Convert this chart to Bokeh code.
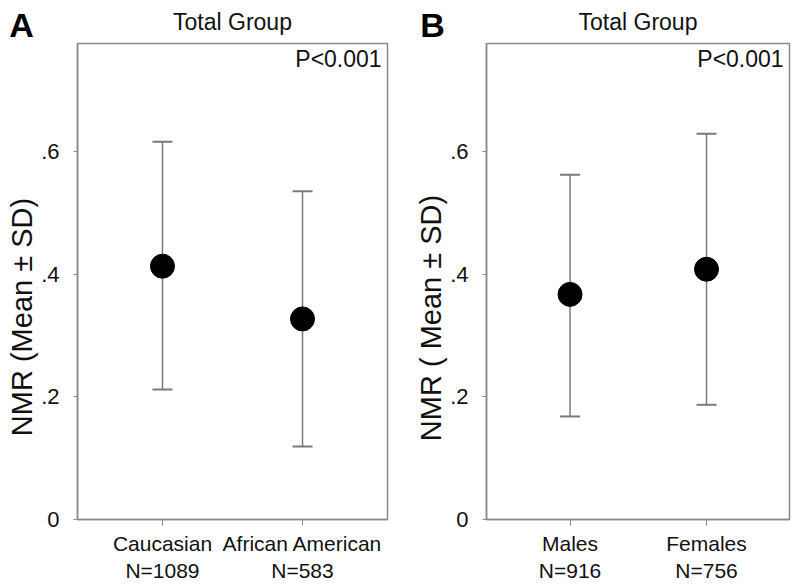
from bokeh.plotting import figure
from bokeh.models import (FixedTicker, Range1d, Whisker, ColumnDataSource, Label, TeeHead, GridBox, Div)
from bokeh.embed import file_html
from bokeh.resources import INLINE

# ---- data ----
race_labels = ["Caucasian\nN=1089", "African American\nN=583"]
race_mean = [0.413, 0.327]
race_upper = [0.616, 0.535]
race_lower = [0.212, 0.119]

sex_labels = ["Males\nN=916", "Females\nN=756"]
sex_mean = [0.367, 0.408]
sex_upper = [0.562, 0.629]
sex_lower = [0.168, 0.187]

y_ticks = [0, 0.2, 0.4, 0.6]
y_tick_labels = ["0", ".2", ".4", ".6"]
panel_title = "Total Group"
p_text = "P<0.001"
ylabel_a = "NMR (Mean ± SD)"
ylabel_b = "NMR ( Mean ± SD)"

FONT = "Liberation Sans"
GRAY = "#8a8a8a"
TXT = "#111111"
H = 588


def make_panel(labels, mean, upper, lower, width, xr, bl, br, bt, bb, title_standoff):
    p = figure(width=width, height=H, output_backend="svg", toolbar_location=None,
               x_range=Range1d(*xr), y_range=Range1d(0, 0.776),
               min_border_left=bl, min_border_right=br, min_border_top=bt, min_border_bottom=bb)
    p.title.text = panel_title
    p.title.align = "center"
    p.title.vertical_align = "top"
    p.title.text_font = FONT
    p.title.text_font_size = "23px"
    p.title.text_font_style = "normal"
    p.title.text_color = TXT
    p.title.standoff = title_standoff
    p.xgrid.visible = False
    p.ygrid.visible = False
    p.outline_line_color = GRAY
    p.outline_line_width = 1.5
    p.background_fill_color = "white"
    p.border_fill_color = "white"

    xs = list(range(1, len(labels) + 1))
    src = ColumnDataSource(dict(x=xs, mean=mean, upper=upper, lower=lower))

    w = Whisker(base="x", upper="upper", lower="lower", source=src, dimension="height",
                line_color="#7a7a7a", line_width=1.5,
                upper_head=TeeHead(size=20, line_color="#7a7a7a", line_width=2),
                lower_head=TeeHead(size=20, line_color="#7a7a7a", line_width=2))
    p.add_layout(w)
    p.scatter("x", "mean", source=src, size=24, color="black")

    xa = p.xaxis[0]
    xa.ticker = FixedTicker(ticks=xs)
    xa.major_label_overrides = {x: l for x, l in zip(xs, labels)}
    xa.minor_tick_line_color = None
    xa.major_tick_out = 6
    xa.major_tick_in = 0
    xa.major_label_standoff = 6
    xa.axis_line_color = GRAY
    xa.axis_line_width = 1.5
    xa.major_tick_line_color = GRAY
    xa.major_label_text_font = FONT
    xa.major_label_text_font_size = "21px"
    xa.major_label_text_color = TXT

    ya = p.yaxis[0]
    ya.ticker = FixedTicker(ticks=y_ticks)
    ya.major_label_overrides = {t: l for t, l in zip(y_ticks, y_tick_labels)}
    ya.minor_tick_line_color = None
    ya.major_tick_out = 4
    ya.major_tick_in = 0
    ya.major_label_standoff = 14
    ya.axis_line_color = GRAY
    ya.axis_line_width = 1.5
    ya.major_tick_line_color = GRAY
    ya.major_label_text_font = FONT
    ya.major_label_text_font_size = "22px"
    ya.major_label_text_color = TXT

    p.add_layout(Label(x=2.565, y=0.772, text=p_text, text_align="right", text_baseline="top",
                       text_font=FONT, text_font_size="23px", text_color=TXT))
    return p


def make_side_text(width, letter, letter_xy, ylabel, ylabel_xy):
    html = (
        f'<div style="position:relative;width:{width}px;height:{H}px;">'
        f'<span style="position:absolute;left:{letter_xy[0]}px;top:{letter_xy[1]}px;'
        f'transform:translate(-50%,-50%);font-family:\'{FONT}\';font-weight:bold;'
        f'font-size:34px;line-height:1;color:#000;">{letter}</span>'
        f'<span style="position:absolute;left:{ylabel_xy[0]}px;top:{ylabel_xy[1]}px;'
        f'transform:translate(-50%,-50%) rotate(-90deg);white-space:nowrap;'
        f'font-family:\'{FONT}\';font-size:29px;line-height:1;color:{TXT};">{ylabel}</span>'
        '</div>'
    )
    return Div(text=html, width=width, height=H, margin=0)


pa = make_panel(race_labels, race_mean, race_upper, race_lower,
                400, (0.393, 2.607), 77, 13, 43, 67, 14)
pb = make_panel(sex_labels, sex_mean, sex_upper, sex_lower,
                400, (0.388, 2.608), 86, 11, 41, 69, 14)
da = make_side_text(45, "A", (21.5, 24.5), ylabel_a, (22, 317))
db = make_side_text(50, "B", (32.5, 24.5), ylabel_b, (31, 318))

layout = GridBox(children=[(pa, 0, 0), (pb, 0, 1), (da, 0, 0), (db, 0, 1)], spacing=0)
open("out.html", "w").write(file_html(layout, INLINE))
